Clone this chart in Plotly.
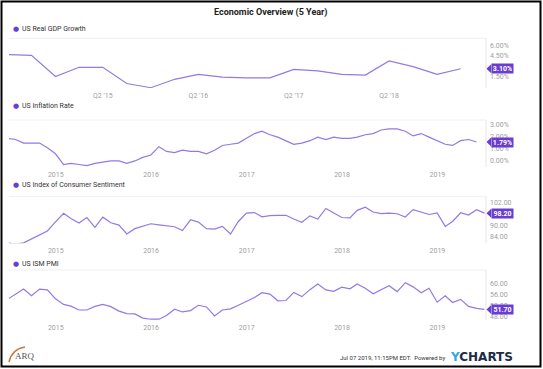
import plotly.graph_objects as go
import pandas as pd

W, H = 543, 369

# ---------------- data ----------------
gdp_dates = pd.date_range("2014-06-30", periods=20, freq="QE")
gdp_values = [5.1, 5.0, 2.0, 3.3, 3.3, 1.0, 0.4, 1.6, 2.3, 1.9, 1.8, 1.8,
              3.0, 2.8, 2.3, 2.2, 4.2, 3.4, 2.3, 3.1]

infl_dates = pd.date_range("2014-06-30", periods=60, freq="ME")
infl_values = [2.1, 2.0, 1.7, 1.7, 1.7, 1.3, 0.8,
               -0.1, 0.0, -0.1, -0.2, 0.0, 0.1, 0.2, 0.2, 0.0, 0.2, 0.5, 0.7,
               1.4, 1.0, 0.9, 1.1, 1.0, 1.0, 0.8, 1.1, 1.5, 1.6, 1.7, 2.1,
               2.5, 2.7, 2.4, 2.2, 1.9, 1.6, 1.7, 1.9, 2.2, 2.0, 2.2, 2.1,
               2.1, 2.2, 2.4, 2.5, 2.8, 2.9, 2.9, 2.7, 2.3, 2.5, 2.2, 1.9,
               1.6, 1.5, 1.9, 2.0, 1.79]

sent_dates = pd.date_range("2014-06-30", periods=61, freq="ME")
sent_values = [82.5, 81.8, 82.5, 84.6, 86.9, 88.8, 93.6,
               98.1, 95.4, 93.0, 95.9, 90.7, 96.1, 93.1, 91.9, 87.2, 90.0, 91.3, 92.6,
               92.0, 91.7, 91.0, 89.0, 94.7, 93.5, 90.0, 89.8, 91.2, 87.2, 93.8, 98.2,
               98.5, 96.3, 96.9, 97.0, 97.1, 95.1, 93.4, 96.8, 95.1, 100.7, 98.5, 95.9,
               95.7, 99.7, 101.4, 98.8, 98.0, 98.2, 97.9, 96.2, 100.1, 98.6, 97.5, 98.3,
               91.2, 93.8, 98.4, 97.2, 100.0, 98.2]

ism_dates = pd.date_range("2014-06-30", periods=61, freq="ME")
ism_values = [55.3, 57.1, 59.0, 56.6, 59.0, 58.7, 55.5,
              53.5, 52.9, 51.5, 51.5, 52.8, 53.5, 52.7, 51.1, 50.2, 50.1, 48.6, 48.2,
              48.2, 49.5, 51.8, 50.8, 51.3, 53.2, 52.6, 49.4, 51.5, 51.9, 53.2, 54.7,
              56.0, 57.7, 57.2, 54.8, 54.9, 57.8, 56.3, 58.8, 60.8, 58.7, 58.2, 59.7,
              59.1, 60.8, 59.3, 57.3, 58.7, 60.2, 58.1, 61.3, 59.8, 57.7, 59.3, 54.3,
              56.6, 54.2, 55.3, 52.8, 52.1, 51.7]

series_names = ["US Real GDP Growth", "US Inflation Rate",
                "US Index of Consumer Sentiment", "US ISM PMI"]
badge_texts = ["3.10%", "1.79%", "98.20", "51.70"]
badge_values = [3.10, 1.79, 98.20, 51.70]

# tick labels that stay visible (those fully hidden by the badge are left out)
gdp_ticks = [1.5, 4.5, 6.0]
gdp_ticktext = ["1.50%", "4.50%", "6.00%"]
infl_ticks = [0, 1, 2, 3]
infl_ticktext = ["0.00%", "1.00%", "2.00%", "3.00%"]
sent_ticks = [84, 90, 102]
sent_ticktext = ["84.00", "90.00", "102.00"]
ism_ticks = [48, 52, 56, 60]
ism_ticktext = ["48.00", "52.00", "56.00", "60.00"]

q_tickvals = ["2015-06-30", "2016-06-30", "2017-06-30", "2018-06-30"]
q_ticktext = ["Q2 '15", "Q2 '16", "Q2 '17", "Q2 '18"]
y_tickvals = ["2015-01-01", "2016-01-01", "2017-01-01", "2018-01-01", "2019-01-01"]
y_ticktext = ["2015", "2016", "2017", "2018", "2019"]

# ---------------- layout helpers ----------------
def px(x):
    return x / W

def py(y):
    return 1 - y / H

LINE = "#9479e2"
BADGE = "#6a3dd2"
DOT = "#6a3dd2"
FONT = "Roboto"

X_LEFT, X_RIGHT = 9, 486
panels = [(38.3, 88.3), (120, 167), (196.7, 243.3), (270, 320)]
yranges = [[0.32, 7.42], [-0.31, 3.64], [82.25, 106.92], [47.92, 65.84]]
xrange_ = ["2014-07-06", "2019-07-06"]
legend_y = [28.5, 106.5, 185, 263.5]

all_x = [gdp_dates, infl_dates, sent_dates, ism_dates]
all_y = [gdp_values, infl_values, sent_values, ism_values]
all_ticks = [(gdp_ticks, gdp_ticktext), (infl_ticks, infl_ticktext),
             (sent_ticks, sent_ticktext), (ism_ticks, ism_ticktext)]

fig = go.Figure()
layout = dict(
    width=W, height=H,
    margin=dict(l=0, r=0, t=0, b=0),
    paper_bgcolor="white", plot_bgcolor="white",
    showlegend=False,
    font=dict(family=FONT, size=7, color="#999999"),
)
annotations = []
shapes = []

for i in range(4):
    n = "" if i == 0 else str(i + 1)
    xa, ya = "x" + n, "y" + n
    top, bot = panels[i]
    fig.add_trace(go.Scatter(x=all_x[i], y=all_y[i], mode="lines",
                             line=dict(color=LINE, width=1.2),
                             xaxis=xa, yaxis=ya, hoverinfo="skip"))
    if i == 0:
        tv, tt = q_tickvals, q_ticktext
    else:
        tv, tt = y_tickvals, y_ticktext
    layout["xaxis" + n] = dict(
        domain=[px(X_LEFT), px(X_RIGHT)], anchor=ya, type="date",
        range=xrange_, showgrid=False, zeroline=False, showline=False,
        ticks="", tickvals=tv, ticktext=tt, automargin=False,
        tickfont=dict(family=FONT, size=7, color="#a0a0a0"),
        ticklabelstandoff=2, fixedrange=True,
    )
    ticks, ticktext = all_ticks[i]
    layout["yaxis" + n] = dict(
        domain=[py(bot), py(top)], anchor=xa, side="right",
        range=yranges[i], showgrid=False, zeroline=False, showline=False,
        ticks="", tickvals=ticks, ticktext=ticktext, automargin=False,
        tickfont=dict(family=FONT, size=7, color="#a0a0a0"),
        ticklabelstandoff=3, ticklabelshift=-3, fixedrange=True,
    )
    # plot frame lines (top + right)
    shapes.append(dict(type="line", xref="paper", yref="paper",
                       x0=px(X_LEFT), x1=px(X_RIGHT), y0=py(top), y1=py(top),
                       line=dict(color="#f0f0f0", width=1)))
    shapes.append(dict(type="line", xref="paper", yref="paper",
                       x0=px(X_RIGHT), x1=px(X_RIGHT), y0=py(top), y1=py(bot),
                       line=dict(color="#e6e6e6", width=1)))
    # legend
    annotations.append(dict(text="●", xref="paper", yref="paper",
                            x=px(15.5), y=py(legend_y[i]), xanchor="center",
                            yanchor="middle", showarrow=False,
                            font=dict(size=7, color=DOT, family="DejaVu Sans")))
    annotations.append(dict(text=series_names[i], xref="paper", yref="paper",
                            x=px(20), y=py(legend_y[i]), xanchor="left",
                            yanchor="middle", showarrow=False,
                            font=dict(size=7, color="#333333", family=FONT)))
    # badge
    annotations.append(dict(text="<b>" + badge_texts[i] + "</b>", xref="paper",
                            yref=ya, x=px(491), y=badge_values[i],
                            xanchor="left", yanchor="middle", showarrow=False,
                            bgcolor=BADGE, borderpad=1, width=19, height=7,
                            font=dict(size=7, color="white", family=FONT)))
    shapes.append(dict(type="path", xref="paper", yref=ya,
                       ysizemode="pixel", yanchor=badge_values[i],
                       path=f"M {px(486.5)},0 L {px(491.2)},4.5 L {px(491.2)},-4.5 Z",
                       fillcolor=BADGE, line=dict(width=0)))

# title
annotations.append(dict(text="<b>Economic Overview (5 Year)</b>", xref="paper",
                        yref="paper", x=px(271), y=py(13), xanchor="center",
                        yanchor="middle", showarrow=False,
                        font=dict(size=9, color="#222222", family=FONT)))
# footer
annotations.append(dict(text="Jul 07 2019, 11:15PM EDT.  Powered by", xref="paper",
                        yref="paper", x=px(447), y=py(357), xanchor="right",
                        yanchor="middle", showarrow=False,
                        font=dict(size=6, color="#333333", family=FONT)))
annotations.append(dict(text="<b><span style='color:#2fa8e6'>Y</span>CHARTS</b>",
                        xref="paper", yref="paper", x=px(448), y=py(357),
                        xanchor="left", yanchor="middle", showarrow=False,
                        font=dict(size=12, color="#1c2b4a", family="DejaVu Sans")))
annotations.append(dict(text="ARQ", xref="paper", yref="paper", x=px(13),
                        y=py(356), xanchor="left", yanchor="middle",
                        showarrow=False,
                        font=dict(size=9, color="#555555", family="Liberation Serif")))
shapes.append(dict(type="path", xref="paper", yref="paper",
                   path=f"M {px(9)},{py(362)} Q {px(12)},{py(349)} {px(25)},{py(347)}",
                   line=dict(color="#c87a3c", width=1.5)))
# outer border
shapes.append(dict(type="rect", xref="paper", yref="paper",
                   x0=px(1.5), x1=px(540.5), y0=py(366.5), y1=py(1.5),
                   line=dict(color="black", width=2)))

layout["annotations"] = annotations
layout["shapes"] = shapes
fig.update_layout(**layout)
fig.write_html("out.html", config={"staticPlot": True},
               post_script="document.body.style.margin='0';"
                           "document.body.style.overflow='hidden';")
